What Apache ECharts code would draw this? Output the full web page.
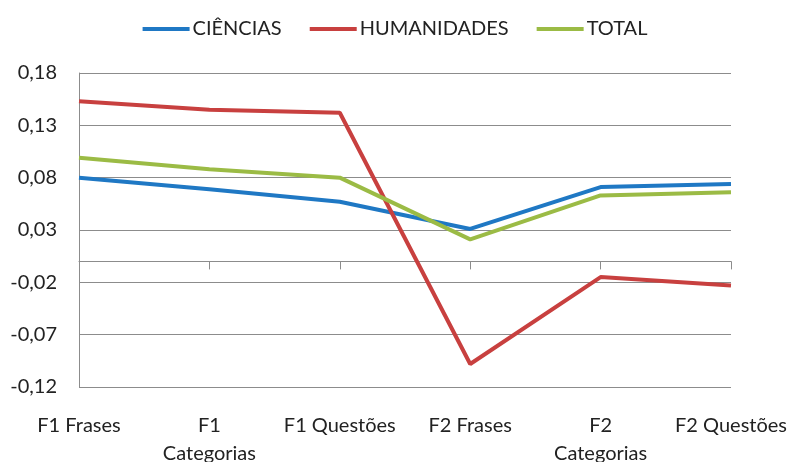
<!DOCTYPE html>
<html>
<head>
<meta charset="utf-8">
<script src="https://cdn.jsdelivr.net/npm/echarts@6/dist/echarts.min.js"></script>
<style>
  html, body { margin: 0; padding: 0; background: #fff; }
  #chart { width: 790px; height: 462px; }
</style>
</head>
<body>
<div id="chart"></div>
<script>
var categories = ['F1 Frases', 'F1 Categorias', 'F1 Questões', 'F2 Frases', 'F2 Categorias', 'F2 Questões'];
var ciencias    = [0.080, 0.069, 0.057, 0.031, 0.071, 0.074];
var humanidades = [0.153, 0.145, 0.142, -0.098, -0.015, -0.023];
var total       = [0.099, 0.088, 0.080, 0.021, 0.063, 0.066];
var axisMin = -0.12, axisMax = 0.18, axisStep = 0.05;

$init();

function $init(){
	var chart = echarts.init(document.getElementById('chart'));
	var font = 'Lato';
	var option = {
		animation: false,
		textStyle: { fontFamily: font },
		color: ['#1f78c4', '#c8403f', '#9bbb45'],
		legend: {
			top: 14,
			left: 'center',
			itemWidth: 47,
			itemHeight: 4,
			itemGap: 28,
			icon: 'rect',
			textStyle: { fontSize: 20, color: '#222', fontFamily: font, padding: [0, 0, 0, -2] },
			data: ['CIÊNCIAS', 'HUMANIDADES', 'TOTAL']
		},
		grid: { left: 79, right: 59, top: 73, bottom: 75, outerBoundsMode: 'none' },
		xAxis: [
			{
				// labels at the bottom
				type: 'category',
				data: categories,
				boundaryGap: false,
				position: 'bottom',
				axisLine: { show: false },
				axisTick: { show: false },
				axisLabel: {
					interval: 0, hideOverlap: false,
					fontSize: 20, color: '#222', margin: 25, lineHeight: 28,
					formatter: function(v){ return v.replace(' Categorias', '\nCategorias'); }
				}
			},
			{
				// line + ticks crossing at zero
				type: 'category',
				data: categories,
				boundaryGap: false,
				position: 'top',
				axisLine: { onZero: true, onZeroAxisIndex: 1, lineStyle: { color: '#8c8c8c', width: 1 } },
				axisTick: { show: true, inside: true, length: 8, lineStyle: { color: '#8c8c8c' } },
				axisLabel: { show: false }
			}
		],
		yAxis: [
			{
				// shown axis, labels offset to start at the minimum
				type: 'value',
				min: 0,
				max: axisMax - axisMin,
				interval: axisStep,
				axisLine: { show: true, lineStyle: { color: '#8c8c8c' } },
				axisTick: { show: false },
				splitLine: { lineStyle: { color: '#8c8c8c', width: 1 } },
				axisLabel: {
					fontSize: 20, color: '#222', margin: 22,
					formatter: function(v){ return (v + axisMin).toFixed(2).replace('.', ','); }
				}
			},
			{
				type: 'value',
				min: axisMin,
				max: axisMax,
				show: false
			}
		],
		series: [
			{ name: 'CIÊNCIAS', type: 'line', data: ciencias, yAxisIndex: 1, symbol: 'none', lineStyle: { width: 4 } },
			{ name: 'HUMANIDADES', type: 'line', data: humanidades, yAxisIndex: 1, symbol: 'none', lineStyle: { width: 4 } },
			{ name: 'TOTAL', type: 'line', data: total, yAxisIndex: 1, symbol: 'none', lineStyle: { width: 4 } }
		]
	};
	chart.setOption(option);
}
</script>
</body>
</html>
